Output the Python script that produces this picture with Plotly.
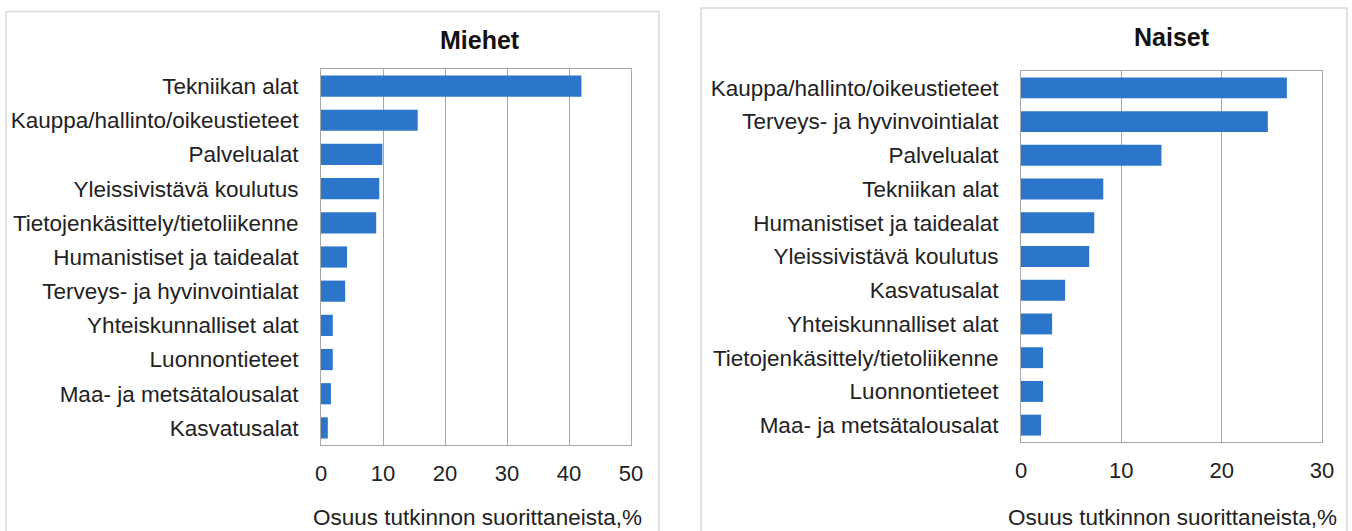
import plotly.graph_objects as go

W, H = 1352, 531

# Data
men_categories = [
    "Tekniikan alat",
    "Kauppa/hallinto/oikeustieteet",
    "Palvelualat",
    "Yleissivistävä koulutus",
    "Tietojenkäsittely/tietoliikenne",
    "Humanistiset ja taidealat",
    "Terveys- ja hyvinvointialat",
    "Yhteiskunnalliset alat",
    "Luonnontieteet",
    "Maa- ja metsätalousalat",
    "Kasvatusalat",
]
men_values = [42.0, 15.6, 9.9, 9.4, 8.9, 4.2, 3.9, 1.9, 1.9, 1.6, 1.1]

women_categories = [
    "Kauppa/hallinto/oikeustieteet",
    "Terveys- ja hyvinvointialat",
    "Palvelualat",
    "Tekniikan alat",
    "Humanistiset ja taidealat",
    "Yleissivistävä koulutus",
    "Kasvatusalat",
    "Yhteiskunnalliset alat",
    "Tietojenkäsittely/tietoliikenne",
    "Luonnontieteet",
    "Maa- ja metsätalousalat",
]
women_values = [26.5, 24.6, 14.0, 8.2, 7.3, 6.8, 4.4, 3.1, 2.2, 2.2, 2.0]

panel_titles = ["Miehet", "Naiset"]
x_title = "Osuus tutkinnon suorittaneista,%"
men_xticks = [0, 10, 20, 30, 40, 50]
women_xticks = [0, 10, 20, 30]


def px(x):
    return x / W


def py(y):
    return 1 - y / H


FONT = "Liberation Sans, Arial, sans-serif"
BAR = "#2b76cb"
GRID = "#a6a6a6"
TXT = "#222222"

fig = go.Figure()
fig.add_trace(go.Bar(x=men_values, y=men_categories, orientation="h",
                     marker=dict(color=BAR, line=dict(width=0)),
                     xaxis="x", yaxis="y", showlegend=False))
fig.add_trace(go.Bar(x=women_values, y=women_categories, orientation="h",
                     marker=dict(color=BAR, line=dict(width=0)),
                     xaxis="x2", yaxis="y2", showlegend=False))

common_x = dict(showgrid=True, gridcolor=GRID, gridwidth=1, showline=True,
                mirror=True, linecolor=GRID, linewidth=1, ticks="",
                zeroline=False, tickfont=dict(family=FONT, size=22, color=TXT),
                ticklabelstandoff=9, fixedrange=True, automargin=False)
common_y = dict(showgrid=False, showline=True, mirror=True, linecolor=GRID,
                linewidth=1, ticks="", autorange="reversed",
                tickfont=dict(family=FONT, size=22.5, color=TXT),
                ticklabelstandoff=17, fixedrange=True, automargin=False)

fig.update_layout(
    width=W, height=H,
    margin=dict(l=0, r=0, t=0, b=0),
    paper_bgcolor="white", plot_bgcolor="white",
    bargap=0.38,
    xaxis=dict(domain=[px(321), px(631)], range=[0, 50], tickvals=men_xticks,
               anchor="y", **common_x),
    yaxis=dict(domain=[py(445), py(69)], anchor="x", **common_y),
    xaxis2=dict(domain=[px(1021), px(1322)], range=[0, 30], tickvals=women_xticks,
                anchor="y2", **common_x),
    yaxis2=dict(domain=[py(442), py(71)], anchor="x2", **common_y),
    font=dict(family=FONT, color=TXT),
)

# Panel borders
fig.add_shape(type="rect", xref="paper", yref="paper",
              x0=px(6), x1=px(659), y0=py(540), y1=py(11.5),
              line=dict(color="#d9d9d9", width=1.5), layer="below")
fig.add_shape(type="rect", xref="paper", yref="paper",
              x0=px(701), x1=px(1347), y0=py(540), y1=py(8),
              line=dict(color="#d9d9d9", width=1.5), layer="below")

ann = dict(xref="paper", yref="paper", showarrow=False,
           xanchor="center", yanchor="middle")
# Titles
fig.add_annotation(text=f"<b>{panel_titles[0]}</b>", x=px(480), y=py(40),
                   font=dict(family=FONT, size=25, color="#111"), **ann)
fig.add_annotation(text=f"<b>{panel_titles[1]}</b>", x=px(1172), y=py(37),
                   font=dict(family=FONT, size=25, color="#111"), **ann)
# X-axis titles
fig.add_annotation(text=x_title, x=px(477), y=py(517),
                   font=dict(family=FONT, size=22.5, color=TXT), **ann)
fig.add_annotation(text=x_title, x=px(1172), y=py(517),
                   font=dict(family=FONT, size=22.5, color=TXT), **ann)

fig.write_html("out.html",
               config={"displayModeBar": False, "staticPlot": True},
               post_script="document.body.style.margin='0';"
                           "document.body.style.overflow='hidden';")
